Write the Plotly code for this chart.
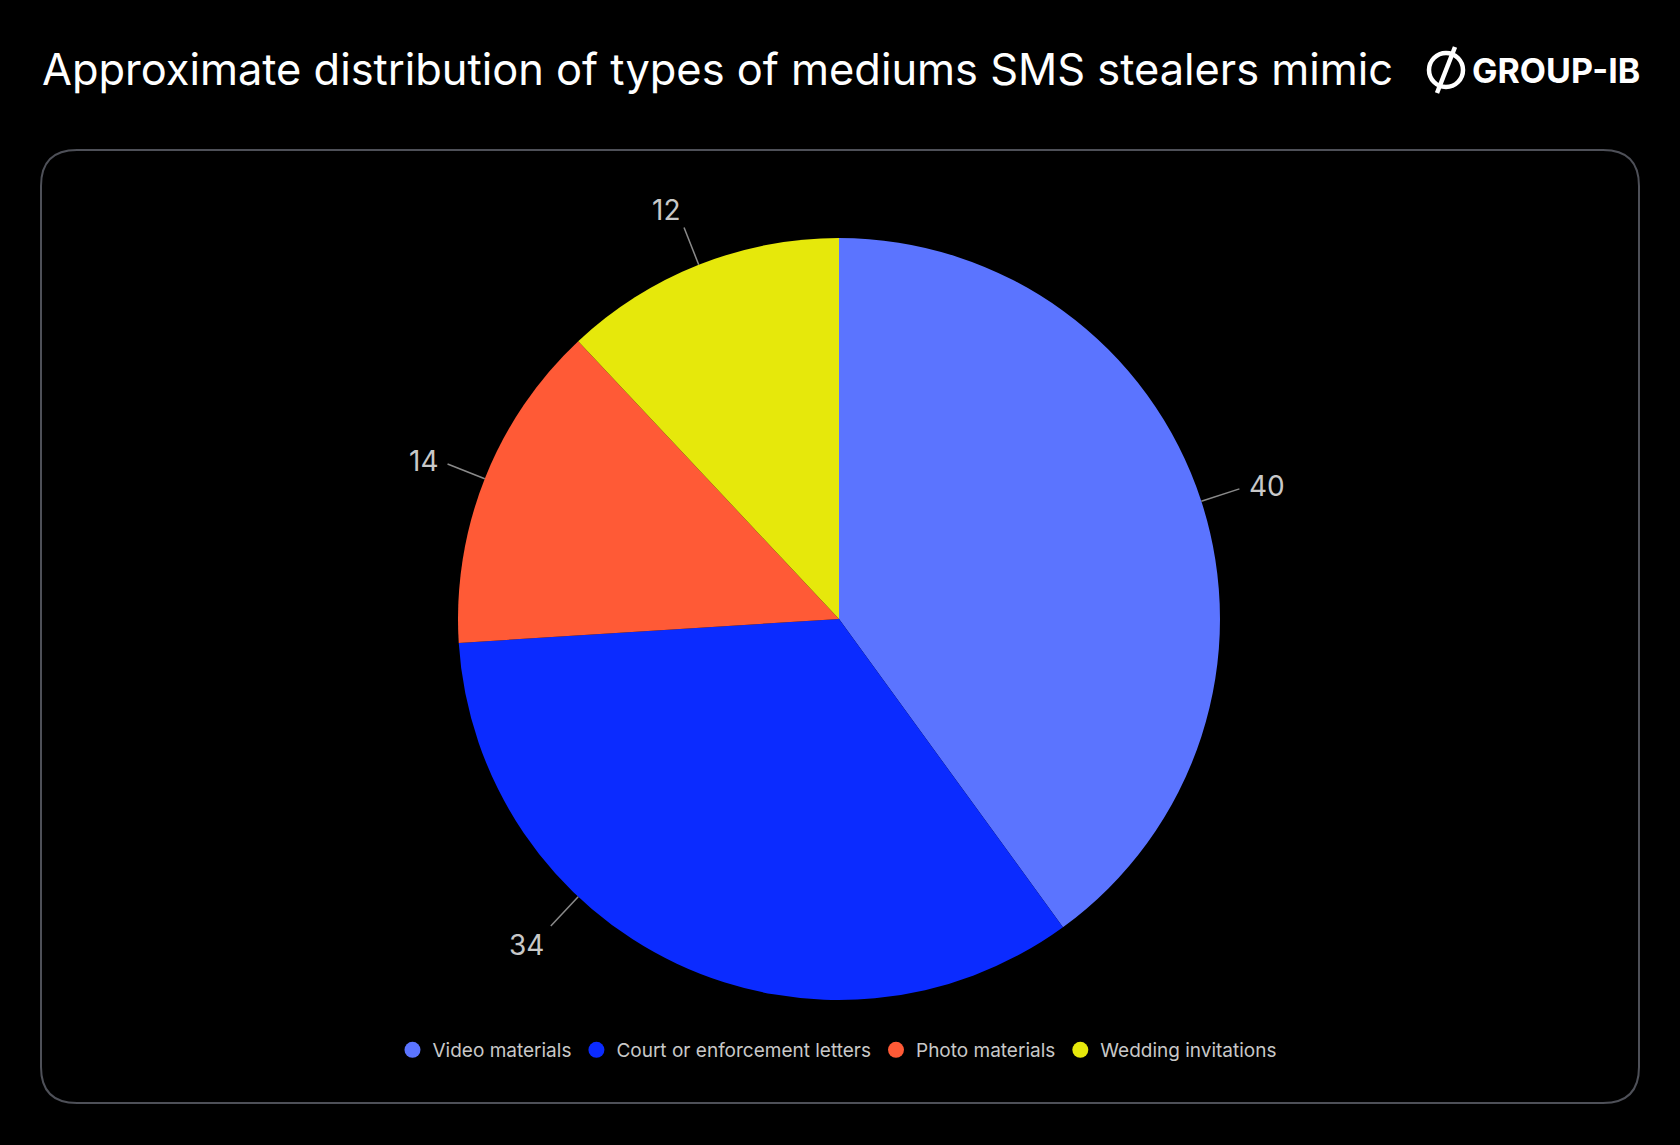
import math
import plotly.graph_objects as go

# chart data
categories = ["Video materials", "Court or enforcement letters", "Photo materials", "Wedding invitations"]
values = [40, 34, 14, 12]
colors = ["#5B74FF", "#0B2BFF", "#FF5A36", "#E6E80B"]

TITLE = "Approximate distribution of types of mediums SMS stealers mimic"

# canvas / layout (pixels)
W, H = 1680, 1145
CX, CY, R = 839, 619, 381          # pie centre and radius
LINE_IN, LINE_OUT, LABEL_R = 381, 421, 430
LABEL_NUDGE_DEG = [0, 18, 0, 0]    # shift of the label leader away from slice middle
TEXT_GREY = "#c8c8c8"

fig = go.Figure()

# pie itself
fig.add_trace(go.Pie(
    labels=categories,
    values=values,
    sort=False,
    direction="clockwise",
    rotation=0,
    marker=dict(colors=colors, line=dict(width=0)),
    textinfo="none",
    hoverinfo="label+value",
    showlegend=False,
    domain=dict(x=[(CX - R) / W, (CX + R) / W], y=[(H - CY - R) / H, (H - CY + R) / H]),
))

# legend entries with round markers
for name, col in zip(categories, colors):
    fig.add_trace(go.Scatter(
        x=[None], y=[None], mode="markers", name=name,
        marker=dict(symbol="circle", size=17, color=col),
    ))

# leader lines + value labels, placed from the slice angles
shapes = []
annotations = []
total = sum(values)
start = 0
for v, nudge in zip(values, LABEL_NUDGE_DEG):
    mid = (start + v / 2) / total * 360 + nudge
    start += v
    s, c = math.sin(math.radians(mid)), math.cos(math.radians(mid))
    shapes.append(dict(
        type="line", xref="x", yref="y",
        x0=CX + LINE_IN * s, y0=CY - LINE_IN * c,
        x1=CX + LINE_OUT * s, y1=CY - LINE_OUT * c,
        line=dict(color="#8a8a8a", width=1.5), layer="above",
    ))
    # label hangs off the end of its connector
    if abs(c) > 0.7:
        yanchor = "bottom" if c > 0 else "top"
        yshift = -9 if c > 0 else 5
    else:
        yanchor, yshift = "middle", 0
    annotations.append(dict(
        xref="x", yref="y", x=CX + LABEL_R * s, y=CY - LABEL_R * c,
        text=str(v), showarrow=False,
        font=dict(family="Inter", size=28, color=TEXT_GREY),
        xanchor="left" if s > 0 else "right", yanchor=yanchor, yshift=yshift, borderpad=0,
    ))

# rounded frame
x0, y0, x1, y1, rr = 41, 150, 1639, 1103, 36
frame = (f"M {x0 + rr},{y0} L {x1 - rr},{y0} Q {x1},{y0} {x1},{y0 + rr} "
         f"L {x1},{y1 - rr} Q {x1},{y1} {x1 - rr},{y1} "
         f"L {x0 + rr},{y1} Q {x0},{y1} {x0},{y1 - rr} "
         f"L {x0},{y0 + rr} Q {x0},{y0} {x0 + rr},{y0} Z")
shapes.append(dict(type="path", xref="x", yref="y", path=frame,
                   line=dict(color="#4e5058", width=2), layer="below"))

# logo mark: ring with a slash
shapes.append(dict(type="circle", xref="x", yref="y", x0=1429, y0=53, x1=1463, y1=87,
                   line=dict(color="white", width=4.5)))
shapes.append(dict(type="line", xref="x", yref="y", x0=1437, y0=93, x1=1455, y1=47,
                   line=dict(color="white", width=4.5)))
annotations.append(dict(
    xref="x", yref="y", x=1642, y=70, text="<b>GROUP-IB</b>", showarrow=False,
    font=dict(family="Inter", size=34, color="white"), xanchor="right", yanchor="middle",
))

fig.update_layout(
    width=W, height=H,
    paper_bgcolor="black", plot_bgcolor="black",
    margin=dict(l=0, r=0, t=0, b=0),
    title=dict(text=TITLE, x=42 / W, xanchor="left", y=1 - 70 / H, yanchor="middle",
               font=dict(family="Inter", size=43.4, color="white")),
    xaxis=dict(range=[0, W], visible=False, fixedrange=True),
    yaxis=dict(range=[H, 0], visible=False, fixedrange=True),
    legend=dict(orientation="h", x=0.4985, xanchor="center", y=1 - 1050 / H, yanchor="middle",
                font=dict(family="Inter", size=19, color=TEXT_GREY), bgcolor="rgba(0,0,0,0)",
                itemclick=False),
    shapes=shapes,
    annotations=annotations,
)

# drop the page margin so the figure sits flush in the window
fig.write_html("out.html", config={"displayModeBar": False},
               post_script="document.body.style.margin='0px';")
